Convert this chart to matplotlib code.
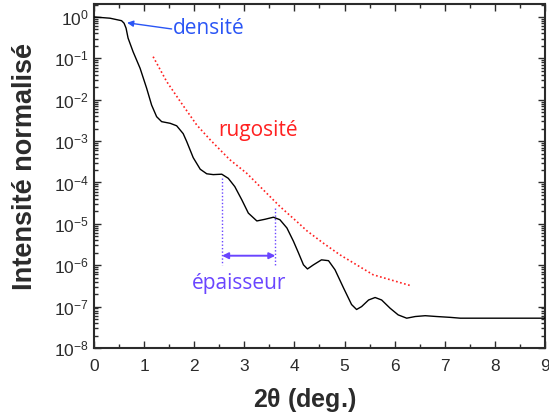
import matplotlib

matplotlib.use("Agg")
import matplotlib.pyplot as plt
import numpy as np
from matplotlib.ticker import LogLocator, MultipleLocator

# measured reflectivity (black), log10 of normalised intensity
black_x = [0.0, 0.32, 0.55, 0.60, 0.64, 0.68, 0.78, 0.92, 1.05, 1.15, 1.25, 1.35, 1.52,
           1.65, 1.78, 1.85, 1.98, 2.12, 2.25, 2.38, 2.55, 2.68, 2.81, 2.95, 3.08, 3.25,
           3.41, 3.58, 3.71, 3.85, 3.98, 4.08, 4.18, 4.26, 4.38, 4.54, 4.68, 4.81, 4.98,
           5.14, 5.24, 5.34, 5.48, 5.61, 5.74, 5.91, 6.07, 6.24, 6.41, 6.61, 6.84, 7.11,
           7.31, 9.0]
black_log10 = [0.0, -0.03, -0.09, -0.15, -0.27, -0.51, -0.84, -1.24, -1.72, -2.13, -2.41,
               -2.53, -2.57, -2.63, -2.82, -3.01, -3.40, -3.68, -3.79, -3.81, -3.80, -3.90,
               -4.10, -4.42, -4.74, -4.93, -4.89, -4.84, -4.90, -5.10, -5.42, -5.70, -5.99,
               -6.09, -5.99, -5.87, -5.89, -6.11, -6.55, -6.95, -7.07, -7.00, -6.84, -6.78,
               -6.84, -7.04, -7.20, -7.28, -7.24, -7.22, -7.24, -7.26, -7.28, -7.28]

# roughness envelope (red dotted)
red_x = [1.18, 1.45, 1.72, 2.05, 2.32, 2.71, 3.05, 3.38, 3.71, 4.08, 4.25, 4.58, 4.91,
         5.24, 5.57, 5.91, 6.31]
red_log10 = [-0.96, -1.56, -2.04, -2.61, -2.97, -3.45, -3.78, -4.18, -4.58, -4.98, -5.17,
             -5.47, -5.75, -5.99, -6.23, -6.35, -6.49]

# fringe period markers
fringe_x = [2.555, 3.62]
fringe_top_log10 = [-3.89, -4.61]
fringe_bottom_log10 = [-5.99, -6.01]
arrow_log10 = -5.77

BLUE = "#2a55f5"
PURPLE = "#6a45ff"
RED = "#ff2020"
DARK = "#2b2b2b"

plt.rcParams["font.family"] = ["Liberation Sans", "DejaVu Sans"]

fig = plt.figure(figsize=(5.49, 4.19), dpi=100)
ax = fig.add_axes([0.1712, 0.1695, 0.8215, 0.821])

ax.plot(black_x, 10 ** np.array(black_log10), color="black", lw=1.0, zorder=3)
ax.plot(red_x, 10 ** np.array(red_log10), color=RED, lw=1.2, ls=(0, (1, 1.5)), zorder=2)

for x, top, bot in zip(fringe_x, fringe_top_log10, fringe_bottom_log10):
    ax.plot([x, x], [10 ** top, 10 ** bot], color=PURPLE, lw=1.0, ls=(0, (1, 1.5)), zorder=2)

ax.annotate("", xy=(fringe_x[0], 10 ** arrow_log10), xytext=(fringe_x[1], 10 ** arrow_log10),
            arrowprops=dict(arrowstyle="<|-|>", color=PURPLE, lw=1.4,
                            mutation_scale=9, shrinkA=0, shrinkB=0))
ax.annotate("", xy=(0.66, 10 ** -0.14), xytext=(1.55, 10 ** -0.29),
            arrowprops=dict(arrowstyle="-|>", color=BLUE, lw=1.0,
                            mutation_scale=9, shrinkA=0, shrinkB=0))

ax.text(1.58, 10 ** -0.27, "densité", color=BLUE, fontsize=15, family="Open Sans", va="center")
ax.text(2.475, 10 ** -2.75, "rugosité", color=RED, fontsize=15, family="Open Sans", va="center")
ax.text(1.956, 10 ** -6.43, "épaisseur", color=PURPLE, fontsize=15, family="Open Sans", va="center")

ax.set_yscale("log")
ax.set_xlim(0, 9)
ax.set_ylim(1e-8, 2.06)
ax.xaxis.set_major_locator(MultipleLocator(1))
ax.xaxis.set_minor_locator(MultipleLocator(0.5))
ax.yaxis.set_major_locator(LogLocator(base=10, numticks=20))
ax.yaxis.set_minor_locator(LogLocator(base=10, subs=np.arange(2, 10), numticks=20))
ax.tick_params(which="both", direction="in", top=True, right=True, colors=DARK,
               labelsize=12.5, width=1.0)
ax.tick_params(which="major", length=5)
ax.tick_params(which="minor", length=3)
ax.tick_params(axis="x", which="major", pad=8)
ax.tick_params(axis="y", which="minor", labelleft=False)
for spine in ax.spines.values():
    spine.set_linewidth(1.5)
    spine.set_color(DARK)

ax.set_xlabel(r"2$\mathregular{\theta}$ (deg.)", fontsize=18, fontweight="bold", color=DARK)
ax.set_ylabel("Intensité normalisé", fontsize=19.5, fontweight="bold", color=DARK)
ax.xaxis.set_label_coords(0.466, -0.11)
ax.yaxis.set_label_coords(-0.125, 0.529)

fig.savefig("out.png", dpi=100)
